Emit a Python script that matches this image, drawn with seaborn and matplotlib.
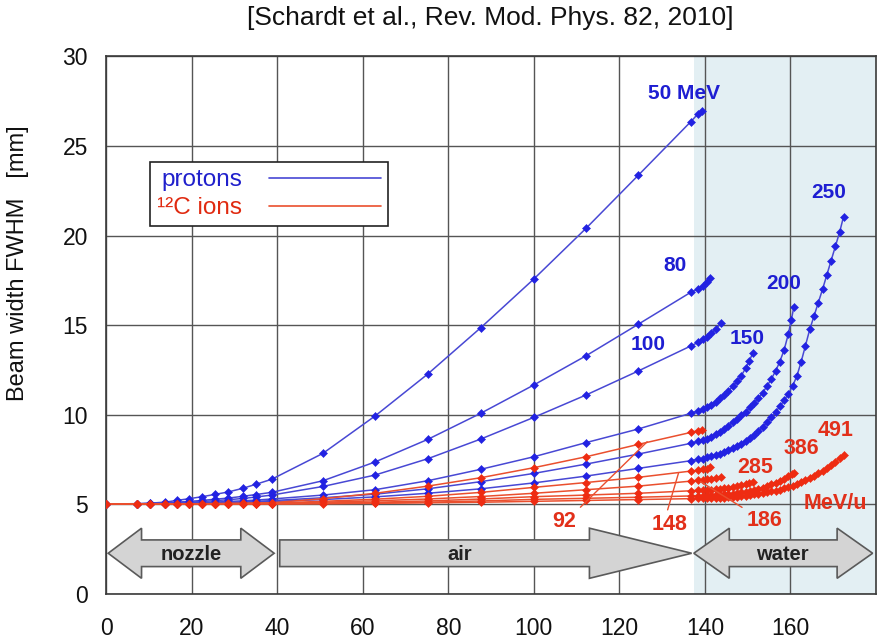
import matplotlib
matplotlib.use("Agg")
import matplotlib.pyplot as plt
from matplotlib.lines import Line2D
from matplotlib.patches import Polygon
import seaborn as sns

# depth positions [mm] of the points in nozzle + air (shared by all curves)
X_AIR = [0, 7.2, 10.2, 13.7, 16.5, 19.5, 22.5, 25.5, 28.5, 32, 35, 38.7,
         50.7, 62.9, 75.2, 87.6, 100, 112.2, 124.4, 136.7, 138.4]

# protons, beam width FWHM [mm] along X_AIR
P50 = [5.0, 5.02, 5.05, 5.1, 5.2, 5.3, 5.41, 5.54, 5.67, 5.88, 6.1, 6.38,
       7.83, 9.92, 12.26, 14.85, 17.57, 20.4, 23.36, 26.36, 26.8]
P80 = [5.0, 5.01, 5.03, 5.06, 5.1, 5.15, 5.2, 5.27, 5.33, 5.43, 5.53, 5.65,
       6.3, 7.35, 8.61, 10.07, 11.65, 13.28, 15.04, 16.83, 17.0]
P100 = [5.0, 5.01, 5.02, 5.04, 5.07, 5.1, 5.14, 5.19, 5.24, 5.31, 5.39, 5.5,
        5.98, 6.62, 7.53, 8.63, 9.84, 11.09, 12.43, 13.83, 14.03]
P150 = [5.0, 5.0, 5.01, 5.02, 5.04, 5.06, 5.08, 5.11, 5.14, 5.18, 5.22, 5.28,
        5.5, 5.8, 6.3, 6.94, 7.64, 8.43, 9.19, 10.07, 10.2]
P200 = [5.0, 5.0, 5.0, 5.01, 5.02, 5.03, 5.05, 5.07, 5.09, 5.12, 5.15, 5.19,
        5.35, 5.55, 5.85, 6.25, 6.71, 7.23, 7.79, 8.39, 8.5]
P250 = [5.0, 5.0, 5.0, 5.01, 5.02, 5.03, 5.04, 5.05, 5.07, 5.09, 5.11, 5.14,
        5.25, 5.4, 5.6, 5.85, 6.18, 6.56, 6.99, 7.42, 7.5]

# protons in water
P50_WX = [139.2]
P50_WY = [26.98]
P80_WX = [139.5, 140.4, 141.2]
P80_WY = [17.2, 17.4, 17.64]
P100_WX = [139.5, 140.5, 141.5, 142.7, 143.7]
P100_WY = [14.2, 14.35, 14.55, 14.8, 15.1]
P150_WX = [139.5, 140.5, 141.5, 142.5, 143.5, 144.5, 145.5, 146.5, 147.5,
           148.5, 149.5, 150.4, 151.2]
P150_WY = [10.3, 10.42, 10.55, 10.72, 10.9, 11.1, 11.32, 11.57, 11.85,
           12.17, 12.58, 13.0, 13.45]
P200_WX = [139.5, 140.5, 141.5, 142.5, 143.5, 144.5, 145.5, 146.5, 147.5,
           148.5, 149.5, 150.5, 151.5, 152.5, 153.5, 154.5, 155.5, 156.5,
           157.5, 158.5, 159.5, 160.2, 160.8]
P200_WY = [8.56, 8.64, 8.76, 8.9, 9.05, 9.2, 9.38, 9.57, 9.74,
           9.95, 10.15, 10.4, 10.65, 10.92, 11.22, 11.58, 11.98, 12.42,
           12.95, 13.6, 14.5, 15.3, 16.02]
P250_WX = [139.5, 140.5, 141.5, 142.5, 143.5, 144.5, 145.5, 146.5, 147.5,
           148.5, 149.5, 150.5, 151.5, 152.5, 153.5, 154.5, 155.5, 156.5,
           157.5, 158.5, 159.5, 160.5, 161.5, 162.5, 163.5, 164.5, 165.5,
           166.5, 167.5, 168.5, 169.5, 170.5, 171.5, 172.4]
P250_WY = [7.54, 7.6, 7.67, 7.74, 7.82, 7.91, 8.01, 8.12, 8.24,
           8.37, 8.51, 8.67, 8.85, 9.06, 9.3, 9.57, 9.84, 10.13,
           10.45, 10.79, 11.15, 11.6, 12.15, 12.95, 13.85, 14.75, 15.5,
           16.25, 17.0, 17.8, 18.6, 19.4, 20.2, 21.05]

# 12C ions, beam width FWHM [mm] along X_AIR
C92 = [5.0, 5.0, 5.0, 5.0, 5.01, 5.01, 5.02, 5.02, 5.03, 5.04, 5.05, 5.07,
       5.3, 5.6, 6.0, 6.47, 7.03, 7.64, 8.33, 9.0, 9.1]
C148 = [5.0, 5.0, 5.0, 5.0, 5.0, 5.01, 5.01, 5.02, 5.02, 5.03, 5.04, 5.05,
        5.15, 5.27, 5.43, 5.65, 5.93, 6.2, 6.49, 6.84, 6.88]
C186 = [5.0, 5.0, 5.0, 5.0, 5.0, 5.0, 5.01, 5.01, 5.02, 5.02, 5.03, 5.04,
        5.1, 5.18, 5.28, 5.42, 5.6, 5.8, 6.0, 6.28, 6.32]
C285 = [5.0, 5.0, 5.0, 5.0, 5.0, 5.0, 5.0, 5.01, 5.01, 5.01, 5.02, 5.02,
        5.05, 5.1, 5.17, 5.28, 5.41, 5.5, 5.6, 5.74, 5.76]
C386 = [5.0, 5.0, 5.0, 5.0, 5.0, 5.0, 5.0, 5.0, 5.01, 5.01, 5.01, 5.01,
        5.03, 5.06, 5.1, 5.17, 5.26, 5.32, 5.38, 5.45, 5.46]
C491 = [5.0, 5.0, 5.0, 5.0, 5.0, 5.0, 5.0, 5.0, 5.0, 5.0, 5.01, 5.01,
        5.02, 5.04, 5.07, 5.1, 5.15, 5.2, 5.25, 5.3, 5.31]

# 12C ions in water
C92_WX = [139.3]
C92_WY = [9.13]
C148_WX = [139.5, 140.4, 141.3]
C148_WY = [6.93, 6.98, 7.05]
C186_WX = [139.5, 140.5, 141.5, 142.5, 143.8]
C186_WY = [6.35, 6.38, 6.42, 6.46, 6.53]
C285_WX = [139.5, 140.5, 141.5, 142.5, 143.5, 144.5, 145.5, 146.5, 147.5,
           148.5, 149.5, 150.4, 151.2]
C285_WY = [5.77, 5.78, 5.8, 5.82, 5.84, 5.87, 5.9, 5.94, 5.99,
           6.04, 6.1, 6.17, 6.25]
C386_WX = [139.5, 140.5, 141.5, 142.5, 143.5, 144.5, 145.5, 146.5, 147.5,
           148.5, 149.5, 150.5, 151.5, 152.5, 153.5, 154.5, 155.5, 156.5,
           157.5, 158.5, 159.5, 160.3, 160.8]
C386_WY = [5.47, 5.48, 5.49, 5.5, 5.52, 5.54, 5.56, 5.58, 5.61,
           5.65, 5.69, 5.74, 5.79, 5.85, 5.92, 6.0, 6.1, 6.2,
           6.3, 6.42, 6.55, 6.65, 6.72]
C491_WX = [139.5, 140.5, 141.5, 142.5, 143.5, 144.5, 145.5, 146.5, 147.5,
           148.5, 149.5, 150.5, 151.5, 152.5, 153.5, 154.5, 155.5, 156.5,
           157.5, 158.5, 159.5, 160.5, 161.5, 162.5, 163.5, 164.5, 165.5,
           166.5, 167.5, 168.5, 169.5, 170.5, 171.5, 172.6]
C491_WY = [5.31, 5.32, 5.33, 5.34, 5.35, 5.36, 5.37, 5.39, 5.41,
           5.44, 5.47, 5.5, 5.54, 5.58, 5.62, 5.66, 5.7, 5.75,
           5.81, 5.88, 5.95, 6.03, 6.12, 6.22, 6.34, 6.46, 6.59,
           6.73, 6.87, 7.03, 7.2, 7.37, 7.55, 7.74]

PROTONS = [(P50, P50_WX, P50_WY), (P80, P80_WX, P80_WY),
           (P100, P100_WX, P100_WY), (P150, P150_WX, P150_WY),
           (P200, P200_WX, P200_WY), (P250, P250_WX, P250_WY)]
CARBON = [(C92, C92_WX, C92_WY), (C148, C148_WX, C148_WY),
          (C186, C186_WX, C186_WY), (C285, C285_WX, C285_WY),
          (C386, C386_WX, C386_WY), (C491, C491_WX, C491_WY)]

WATER_START = 137.5
X_TICKS = [0, 20, 40, 60, 80, 100, 120, 140, 160]
Y_TICKS = [0, 5, 10, 15, 20, 25, 30]

BLUE_LINE = "#4848d4"
BLUE_MARK = "#2222e2"
BLUE_TEXT = "#1e1ed2"
RED_LINE = "#ea4f2e"
RED_MARK = "#ee2c12"
RED_TEXT = "#e2301a"

sns.set_theme(style="whitegrid")
plt.rcParams["font.family"] = ["Liberation Sans", "DejaVu Sans"]

fig = plt.figure(figsize=(8.8, 6.42), dpi=100)
ax = fig.add_axes([0.1205, 0.0755, 0.875, 0.8365])
ax.set_facecolor("white")

ax.axvspan(WATER_START, 180, color="#e3eff3", lw=0, zorder=0)


def draw_curves(curves, line_color, mark_color):
    for air_y, wx, wy in curves:
        xs = X_AIR + wx
        ys = air_y + wy
        sns.lineplot(x=xs, y=ys, ax=ax, color=line_color, linewidth=1.1,
                     marker="D", markersize=3.6, markerfacecolor=mark_color,
                     markeredgecolor=mark_color, markeredgewidth=0.4,
                     sort=False, estimator=None, legend=False, zorder=3)


draw_curves(PROTONS, BLUE_LINE, BLUE_MARK)
draw_curves(CARBON, RED_LINE, RED_MARK)


def block_arrow(x0, x1, yc, left_head, head_l, bh=0.745, hh=1.4):
    right = [(x1 - head_l, yc + bh), (x1 - head_l, yc + hh), (x1, yc),
             (x1 - head_l, yc - hh), (x1 - head_l, yc - bh)]
    if left_head:
        left = [(x0 + head_l, yc - bh), (x0 + head_l, yc - hh), (x0, yc),
                (x0 + head_l, yc + hh), (x0 + head_l, yc + bh)]
    else:
        left = [(x0, yc - bh), (x0, yc + bh)]
    ax.add_patch(Polygon(left + right, closed=True, facecolor="#d4d4d4",
                         edgecolor="#5a5a5a", lw=1.2, zorder=2))


block_arrow(0.5, 39.3, 2.25, True, 7.8)
block_arrow(40.6, 136.9, 2.25, False, 23.9)
block_arrow(137.4, 179.2, 2.25, True, 8.3)
for label, xc in [("nozzle", 20), ("air", 82.6), ("water", 158.2)]:
    ax.text(xc, 2.2, label, ha="center", va="center", fontsize=14.5,
            fontweight="bold", color="#222222", zorder=4)

# energy labels
for label, x, y in [("50 MeV", 135.2, 27.95), ("80", 133.1, 18.35),
                    ("100", 126.8, 13.9), ("150", 149.9, 14.25),
                    ("200", 158.4, 17.33), ("250", 168.9, 22.4)]:
    ax.text(x, y, label, ha="center", va="center", fontsize=15,
            fontweight="bold", color=BLUE_TEXT, zorder=4)
for label, x, y in [("491", 170.6, 9.13), ("386", 162.5, 8.11),
                    ("285", 151.8, 7.05), ("MeV/u", 170.5, 5.04)]:
    ax.text(x, y, label, ha="center", va="center", fontsize=15.5,
            fontweight="bold", color=RED_TEXT, zorder=4)
for label, txt, pt, rel in [("92", (107.1, 4.0), (126.5, 8.48), (1.0, 1.0)),
                            ("148", (131.8, 3.83), (133.8, 6.71), (0.4, 1.0)),
                            ("186", (153.9, 4.07), (139.0, 6.25), (0.0, 1.0))]:
    ax.annotate(label, xy=pt, xytext=txt, ha="center", va="center",
                fontsize=15.5, fontweight="bold", color=RED_TEXT, zorder=4,
                arrowprops=dict(arrowstyle="-", color=RED_LINE, lw=1.0,
                                relpos=rel, shrinkA=1, shrinkB=0))

handles = [Line2D([], [], color=BLUE_LINE, lw=1.2),
           Line2D([], [], color=RED_LINE, lw=1.2)]
leg = ax.legend(handles, ["protons", "\u00b9\u00b2C ions"], loc="upper left",
                bbox_to_anchor=(0.057, 0.804), borderaxespad=0,
                markerfirst=False, handlelength=4.6, handletextpad=1.1,
                fontsize=17.5, labelspacing=0.25, borderpad=0.3,
                fancybox=False, framealpha=1, edgecolor="#222222")
leg.get_frame().set_linewidth(1.2)
leg.get_texts()[0].set_color("#2020cc")
leg.get_texts()[1].set_color("#e02a10")

ax.set_xlim(0, 180)
ax.set_ylim(0, 30)
ax.set_xticks(X_TICKS)
ax.set_yticks(Y_TICKS)
ax.grid(True, color="#555555", lw=1.0)
ax.tick_params(axis="both", length=0, labelsize=16.5, colors="#111111")
ax.tick_params(axis="x", pad=17)
ax.tick_params(axis="y", pad=13)
for s in ax.spines.values():
    s.set_visible(True)
    s.set_color("#3a3a3a")
    s.set_linewidth(1.2)

ax.set_xlabel("")
ax.set_ylabel("Beam width FWHM   [mm]", fontsize=17, color="#111111")
ax.yaxis.set_label_coords(-0.1, 0.616)

fig.text(490 / 880, 1 - 18 / 642, "[Schardt et al., Rev. Mod. Phys. 82, 2010]",
         ha="center", va="center", fontsize=19, color="#111111")

fig.savefig("out.png", dpi=100)
plt.close(fig)
